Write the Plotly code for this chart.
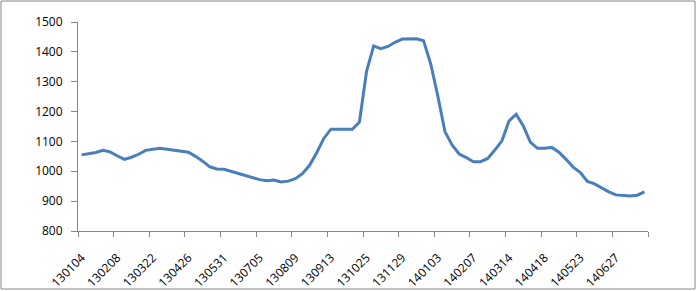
import plotly.graph_objects as go

dates = [
    "130104", "130111", "130118", "130125", "130201", "130208", "130222", "130301", "130308", "130315",
    "130322", "130329", "130405", "130412", "130419", "130426", "130503", "130510", "130517", "130524",
    "130531", "130607", "130614", "130621", "130628", "130705", "130712", "130719", "130726", "130802",
    "130809", "130816", "130823", "130830", "130906", "130913", "130920", "130927", "131011", "131018",
    "131025", "131101", "131108", "131115", "131122", "131129", "131206", "131213", "131220", "131227",
    "140103", "140110", "140117", "140124", "140131", "140207", "140214", "140221", "140228", "140307",
    "140314", "140321", "140328", "140404", "140411", "140418", "140425", "140502", "140509", "140516",
    "140523", "140530", "140606", "140613", "140620", "140627", "140704", "140711", "140718", "140725",
]

values = [
    1055, 1058, 1063, 1070, 1065, 1052, 1040, 1047, 1057, 1070,
    1073, 1077, 1074, 1071, 1069, 1064, 1050, 1034, 1015, 1008,
    1007, 1000, 994, 987, 978, 972, 968, 971, 964, 967,
    975, 992, 1020, 1062, 1110, 1141, 1141, 1141, 1141, 1165,
    1335, 1420, 1411, 1418, 1432, 1443, 1444, 1444, 1437, 1360,
    1252, 1133, 1088, 1058, 1046, 1032, 1032, 1043, 1071, 1102,
    1169, 1191, 1152, 1097, 1077, 1077, 1080, 1064, 1040, 1014,
    996, 966, 958, 943, 931, 921, 920, 917, 920, 931,
]

label_step = 5
y_min, y_max, y_step = 800, 1500, 100

tick_labels = dates[::label_step]
boundary_ticks = [i - 0.5 for i in range(0, len(dates) + 1, label_step)]

W, H = 697, 291
ML, MR, MT, MB = 78, 49, 22, 60
PW, PH = W - ML - MR, H - MT - MB

axis_grey = "#868686"
font = dict(family="Open Sans, Liberation Sans, Arial, sans-serif", size=12, color="#000000")

fig = go.Figure()
fig.add_trace(go.Scatter(
    x=dates, y=values, mode="lines",
    line=dict(color="#4a7ebb", width=3),
    showlegend=False, hoverinfo="skip",
))
fig.add_trace(go.Scatter(x=[], y=[], xaxis="x2", yaxis="y", showlegend=False, hoverinfo="skip"))

fig.update_layout(
    width=W, height=H,
    margin=dict(l=ML, r=MR, t=MT, b=MB, pad=0),
    paper_bgcolor="white", plot_bgcolor="white",
    font=font,
    xaxis=dict(
        type="category", range=[-0.5, len(dates) - 0.5],
        tickmode="array", tickvals=tick_labels, ticktext=tick_labels,
        tickangle=-45, ticks="", showgrid=False, zeroline=False,
        showline=True, linecolor=axis_grey, linewidth=1,
        tickfont=font, ticklabelstandoff=14, automargin=False,
    ),
    xaxis2=dict(
        overlaying="x", anchor="y", side="bottom", type="linear",
        range=[-0.5, len(dates) - 0.5],
        tickmode="array", tickvals=boundary_ticks,
        showticklabels=False, ticks="outside", ticklen=5,
        tickcolor=axis_grey, tickwidth=1,
        showgrid=False, zeroline=False, showline=False, automargin=False,
    ),
    yaxis=dict(
        range=[y_min, y_max], tickmode="linear", tick0=y_min, dtick=y_step,
        ticks="outside", ticklen=6, tickcolor=axis_grey, tickwidth=1,
        showline=True, linecolor=axis_grey, linewidth=1,
        showgrid=False, zeroline=False, tickfont=font,
        ticklabelstandoff=6, automargin=False,
    ),
    shapes=[dict(
        type="rect", xref="paper", yref="paper",
        x0=(1 - ML) / PW, x1=(695 - ML) / PW,
        y0=(MT + PH - 289) / PH, y1=(MT + PH - 1) / PH,
        line=dict(color=axis_grey, width=1), fillcolor="rgba(0,0,0,0)",
        layer="below",
    )],
)

fig.write_html("out.html")
